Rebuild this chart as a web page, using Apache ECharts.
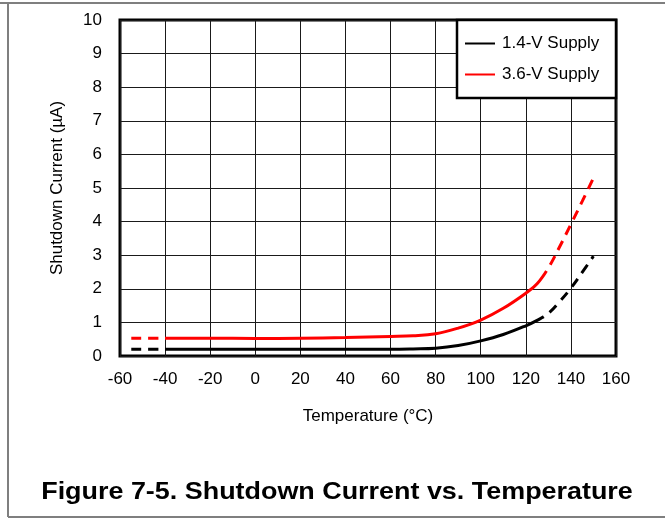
<!DOCTYPE html>
<html>
<head>
<meta charset="utf-8">
<script src="https://cdn.jsdelivr.net/npm/echarts@6/dist/echarts.min.js"></script>
<style>
html,body{margin:0;padding:0;background:#fff;}
#chart{width:665px;height:519px;}
</style>
</head>
<body>
<div id="chart"></div>
<script>
// ---- Data ----
var seriesNames = ['1.4-V Supply', '3.6-V Supply'];
var xTicks = [-60, -40, -20, 0, 20, 40, 60, 80, 100, 120, 140, 160];
var yTicks = [0, 1, 2, 3, 4, 5, 6, 7, 8, 9, 10];

// measured (solid) temperature range; outside it the curves are dashed
var solidRange = [-40, 127.5];

// 1.4-V supply
var temp14 = [-55, -40, -20, 0, 20, 40, 60, 70, 80, 90, 100, 110, 120, 125, 130, 135, 140, 145, 150];
var val14  = [0.2, 0.2, 0.2, 0.2, 0.2, 0.2, 0.2, 0.21, 0.23, 0.31, 0.45, 0.64, 0.9, 1.06, 1.27, 1.62, 2.02, 2.49, 2.97];

// 3.6-V supply
var temp36 = [-55, -40, -20, 0, 20, 40, 60, 70, 80, 90, 100, 110, 120, 125, 130, 135, 140, 145, 150];
var val36  = [0.53, 0.53, 0.53, 0.52, 0.53, 0.55, 0.58, 0.6, 0.66, 0.83, 1.07, 1.42, 1.87, 2.15, 2.62, 3.25, 3.92, 4.6, 5.3];

var colors = ['#000000', '#ff0000'];

function pairs(xs, ys) { return xs.map(function (x, i) { return [x, ys[i]]; }); }

var chart = echarts.init(document.getElementById('chart'));

function lineSeries(name, data, color, dashed) {
  return {
    type: 'line', name: name, data: data, smooth: 0.4,
    symbol: 'none', showSymbol: false, z: 5, color: color,
    lineStyle: { width: 3, type: dashed ? [10, 7] : 'solid' },
    itemStyle: { color: color },
    silent: true
  };
}

var clear = 'rgba(255,255,255,0)';
function vm(idx, color, solid) {
  return {
    type: 'piecewise', show: false, seriesIndex: idx, dimension: 0,
    pieces: solid
      ? [{ gte: solidRange[0], lte: solidRange[1], color: color }]
      : [{ lt: solidRange[0], color: color }, { gte: solidRange[0], lte: solidRange[1], color: clear }, { gt: solidRange[1], color: color }],
    outOfRange: { color: solid ? clear : color }
  };
}

var option = {
  animation: false,
  backgroundColor: '#ffffff',
  textStyle: { fontFamily: 'Liberation Sans, Arial, sans-serif' },
  grid: {
    left: 120, right: 49, top: 20, bottom: 163,
    show: true, borderColor: '#000', borderWidth: 3, backgroundColor: 'transparent'
  },
  xAxis: {
    type: 'value', min: xTicks[0], max: xTicks[xTicks.length - 1], interval: 20,
    axisLine: { show: false }, axisTick: { show: false },
    splitLine: { show: true, lineStyle: { color: '#1a1a1a', width: 1 } },
    axisLabel: { color: '#000', fontSize: 17, margin: 15 },
    name: 'Temperature (°C)', nameLocation: 'middle', nameGap: 52,
    nameTextStyle: { color: '#000', fontSize: 17 }
  },
  yAxis: {
    type: 'value', min: yTicks[0], max: yTicks[yTicks.length - 1], interval: 1,
    axisLine: { show: false }, axisTick: { show: false },
    splitLine: { show: true, lineStyle: { color: '#1a1a1a', width: 1 } },
    axisLabel: { color: '#000', fontSize: 17, margin: 18 },
    name: 'Shutdown Current (µA)', nameLocation: 'middle', nameGap: 54, nameRotate: 90,
    nameTextStyle: { color: '#000', fontSize: 17 }
  },
  legend: {
    data: seriesNames, orient: 'vertical', left: 465, top: 35,
    itemWidth: 30, itemHeight: 16, itemGap: 14, padding: 0, z: 30,
    icon: 'path://M0,7 L30,7 L30,9 L0,9 Z',
    textStyle: { color: '#000', fontSize: 17, padding: [0, 0, 0, 2] }
  },
  visualMap: [
    vm(0, colors[0], true), vm(1, colors[0], false),
    vm(2, colors[1], true), vm(3, colors[1], false)
  ],
  graphic: [
    { type: 'rect', z: 20, shape: { x: 457, y: 20, width: 159, height: 78 },
      style: { fill: '#fff', stroke: '#000', lineWidth: 2.5 } },
    { type: 'line', z: 1, shape: { x1: 0, y1: 3, x2: 665, y2: 3 }, style: { stroke: '#7f7f7f', lineWidth: 2 } },
    { type: 'line', z: 1, shape: { x1: 8, y1: 3, x2: 8, y2: 517 }, style: { stroke: '#7f7f7f', lineWidth: 2 } },
    { type: 'line', z: 1, shape: { x1: 8, y1: 517, x2: 665, y2: 517 }, style: { stroke: '#7f7f7f', lineWidth: 2 } },
    { type: 'text', z: 10, x: 337, y: 493, scaleX: 1.17, originX: 0,
      style: { text: 'Figure 7-5. Shutdown Current vs. Temperature', fill: '#000',
        font: 'bold 23px "Liberation Sans", Arial, sans-serif', textAlign: 'center', textVerticalAlign: 'middle' } }
  ],
  series: [
    lineSeries(seriesNames[0], pairs(temp14, val14), colors[0], false),
    lineSeries('_dash14', pairs(temp14, val14), colors[0], true),
    lineSeries(seriesNames[1], pairs(temp36, val36), colors[1], false),
    lineSeries('_dash36', pairs(temp36, val36), colors[1], true)
  ]
};
chart.setOption(option);
</script>
</body>
</html>
